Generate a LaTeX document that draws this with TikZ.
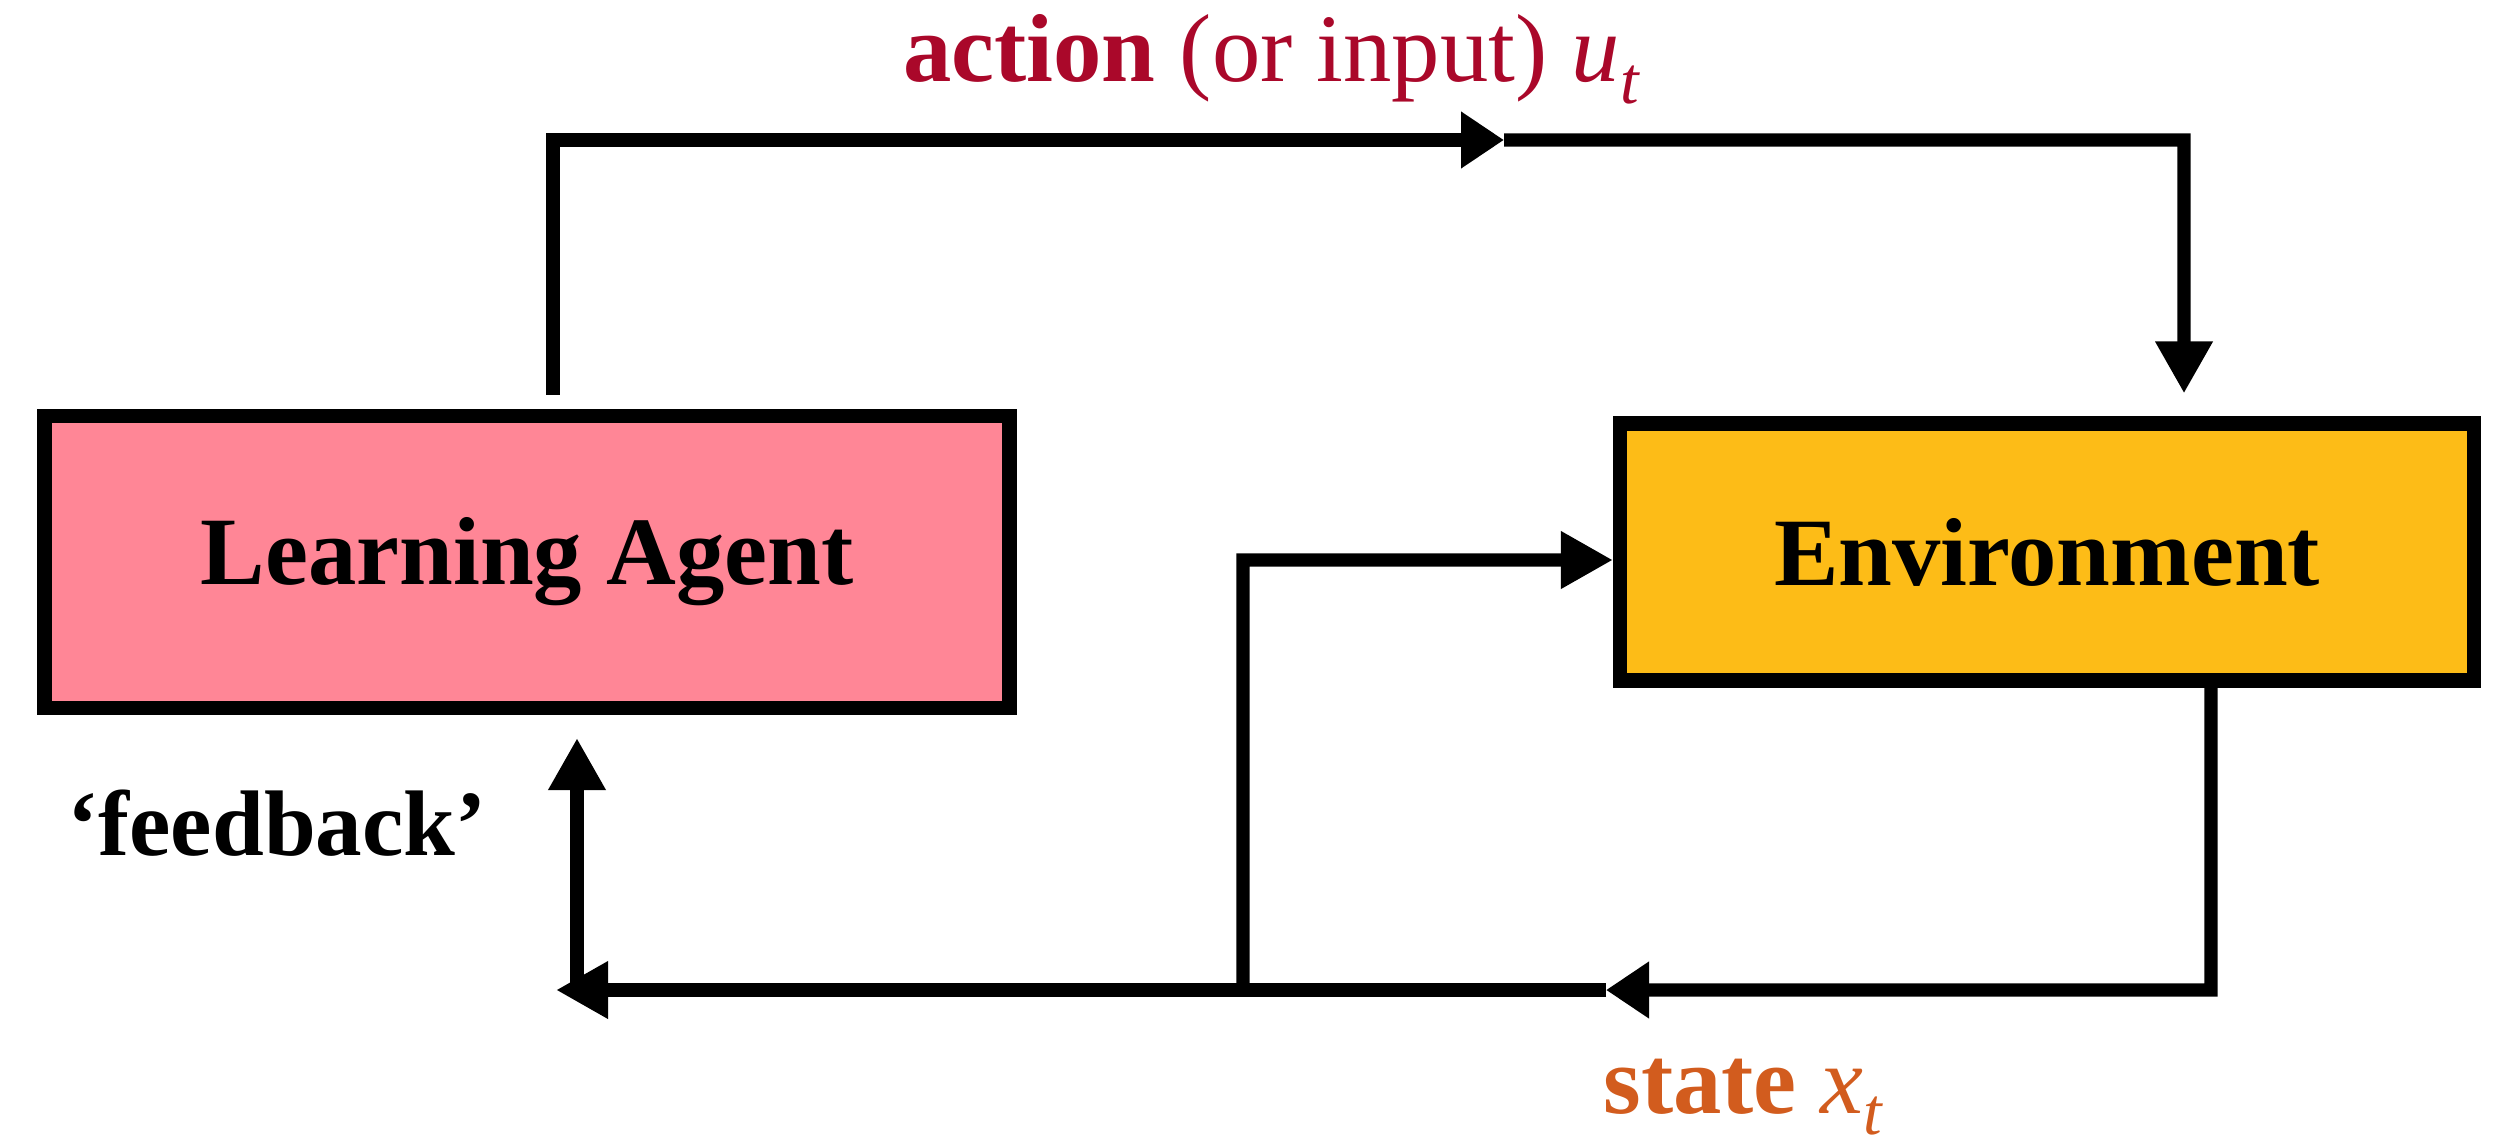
\documentclass[tikz,border=0pt]{standalone}
\usepackage{fontspec}
\setmainfont{Liberation Serif}
\usetikzlibrary{arrows.meta}

\definecolor{agentpink}{RGB}{255,134,150}
\definecolor{envyellow}{RGB}{253,188,23}
\definecolor{actred}{RGB}{170,8,42}
\definecolor{stateorange}{RGB}{210,92,30}

\newcommand{\timeidx}{\raisebox{-0.22em}{\fontsize{19}{20}\selectfont\itshape t}}

\begin{document}
\begin{tikzpicture}[
	block/.style={shape=rectangle,draw=black,line width=4pt,font=\fontsize{27.5}{33}\selectfont\bfseries},
	wire/.style={draw=black,line width=3.8pt},
	tip/.style={-{Triangle[length=5.2mm,width=5.4mm]}},
	midtip/.style={-{Triangle[length=4.3mm,width=5.4mm]}},
	lbl/.style={font=\fontsize{27.5}{33}\selectfont,inner sep=0pt,anchor=base}
]
	\useasboundingbox (0,0) rectangle (25,11.42);

	\node[block,fill=agentpink,minimum width=9.65cm,minimum height=2.92cm] (agent) at (5.27,5.80) {Learning Agent};
	\node[block,fill=envyellow,minimum width=8.54cm,minimum height=2.57cm] (env) at (20.47,5.90) {Environment};

	% action loop over the top
	\coordinate (atl) at (5.53,10.02);
	\coordinate (amid) at (15.04,10.02);
	\coordinate (atr) at (21.84,10.02);
	\draw[wire,midtip] ([xshift=0.26cm,yshift=0.14cm]agent.north) -- (atl) -- (amid);
	\draw[wire,tip] (amid) -- (atr) -- ([xshift=1.37cm,yshift=0.23cm]env.north);

	% state loop along the bottom
	\coordinate (sbr) at (22.11,1.52);
	\coordinate (smid) at (16.06,1.52);
	\coordinate (send) at (5.56,1.52);
	\coordinate (fb) at (5.77,1.52);
	\coordinate (br) at (12.43,1.52);
	\coordinate (brt) at (12.43,5.82);
	\draw[wire,midtip] ([xshift=1.64cm]env.south) -- (sbr) -- (smid);
	\draw[wire,tip] (smid) -- (send);
	\draw[wire,tip] (fb) -- ([xshift=0.5cm,yshift=-0.23cm]agent.south);
	\draw[wire,tip] (br) -- (brt) -- ([yshift=-0.08cm]env.west);

	\node[lbl,text=actred] (actlbl) at (12.71,10.60) {\textbf{action} (or input) \textit{u}\timeidx};
	\node[lbl,text=stateorange] (statelbl) at (17.43,0.29) {\textbf{state} \textit{x}\timeidx};
	\node[lbl,font=\fontsize{26.5}{32}\selectfont] (fblbl) at (2.77,2.87) {\textbf{‘feedback’}};
\end{tikzpicture}
\end{document}
